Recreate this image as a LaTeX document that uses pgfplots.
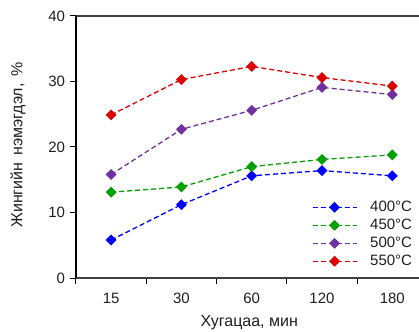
\documentclass[border=0pt]{standalone}
\usepackage{fontspec}
\setmainfont{Liberation Sans}
\usepackage{pgfplots}
\pgfplotsset{compat=1.18}
\definecolor{c400}{RGB}{0,0,255}
\definecolor{c450}{RGB}{0,160,0}
\definecolor{c500}{RGB}{112,48,160}
\definecolor{c550}{RGB}{220,0,0}
\definecolor{txt}{RGB}{30,30,30}
\begin{document}
\begin{tikzpicture}
\path[use as bounding box] (-76pt,-53pt) rectangle (343pt,278pt);
\begin{axis}[
  at={(0pt,0pt)}, anchor=south west,
  scale only axis, width=343pt, height=262pt,
  xmin=-0.5, xmax=4.38, ymin=0, ymax=40,
  axis x line*=box, axis y line*=left,
  x axis line style={line width=1.2pt, draw=black!75},
  y axis line style={line width=1.2pt, draw=black},
  xtick={-0.5,0.5,1.5,2.5,3.5}, xticklabels={},
  extra x ticks={0,1,2,3,4}, extra x tick labels={15,30,60,120,180},
  extra x tick style={tick style={draw=none}},
  xtick pos=bottom, ytick pos=left,
  tick align=outside, major tick length=5.5pt,
  tick style={line width=1pt, black},
  ytick={0,10,20,30,40},
  /pgf/number format/assume math mode=true,
  tick label style={font=\fontsize{15}{18}\selectfont, text=txt},
  xticklabel style={yshift=-6pt},
  yticklabel style={xshift=-2pt},
  xlabel={Хугацаа, мин}, ylabel={Жингийн\hspace{2.5pt} нэмэгдэл,\hspace{2.5pt} \%},
  label style={font=\fontsize{16}{18}\selectfont, text=txt},
  xlabel style={at={(axis description cs:0.505,0)}, anchor=center, yshift=-45pt},
  ylabel style={at={(axis description cs:-0.169,0.508)}, anchor=center},
  legend cell align=left,
  legend style={draw=none, fill=none, at={(0.995,0.025)}, anchor=south east,
    font=\fontsize{15}{18}\selectfont, text=txt, row sep=2pt,
    /tikz/every odd column/.append style={column sep=11pt}},
  legend image code/.code={\draw[mark repeat=2,mark phase=2,#1] plot coordinates {(0pt,0pt) (22pt,0pt) (44pt,0pt)};},
  every axis plot/.append style={line width=1.3pt, dash pattern=on 5pt off 3pt,
    mark=square*, mark size=3.2pt},
]
\addplot[c400, mark options={solid, rotate=45, fill=c400}] coordinates {(0,5.8) (1,11.2) (2,15.6) (3,16.4) (4,15.6)};
\addlegendentry{400°C}
\addplot[c450, mark options={solid, rotate=45, fill=c450}] coordinates {(0,13.1) (1,13.9) (2,17.0) (3,18.1) (4,18.8)};
\addlegendentry{450°C}
\addplot[c500, mark options={solid, rotate=45, fill=c500}] coordinates {(0,15.8) (1,22.7) (2,25.6) (3,29.1) (4,28.0)};
\addlegendentry{500°C}
\addplot[c550, mark options={solid, rotate=45, fill=c550}] coordinates {(0,24.9) (1,30.3) (2,32.3) (3,30.6) (4,29.3)};
\addlegendentry{550°C}
\end{axis}
\end{tikzpicture}
\end{document}
